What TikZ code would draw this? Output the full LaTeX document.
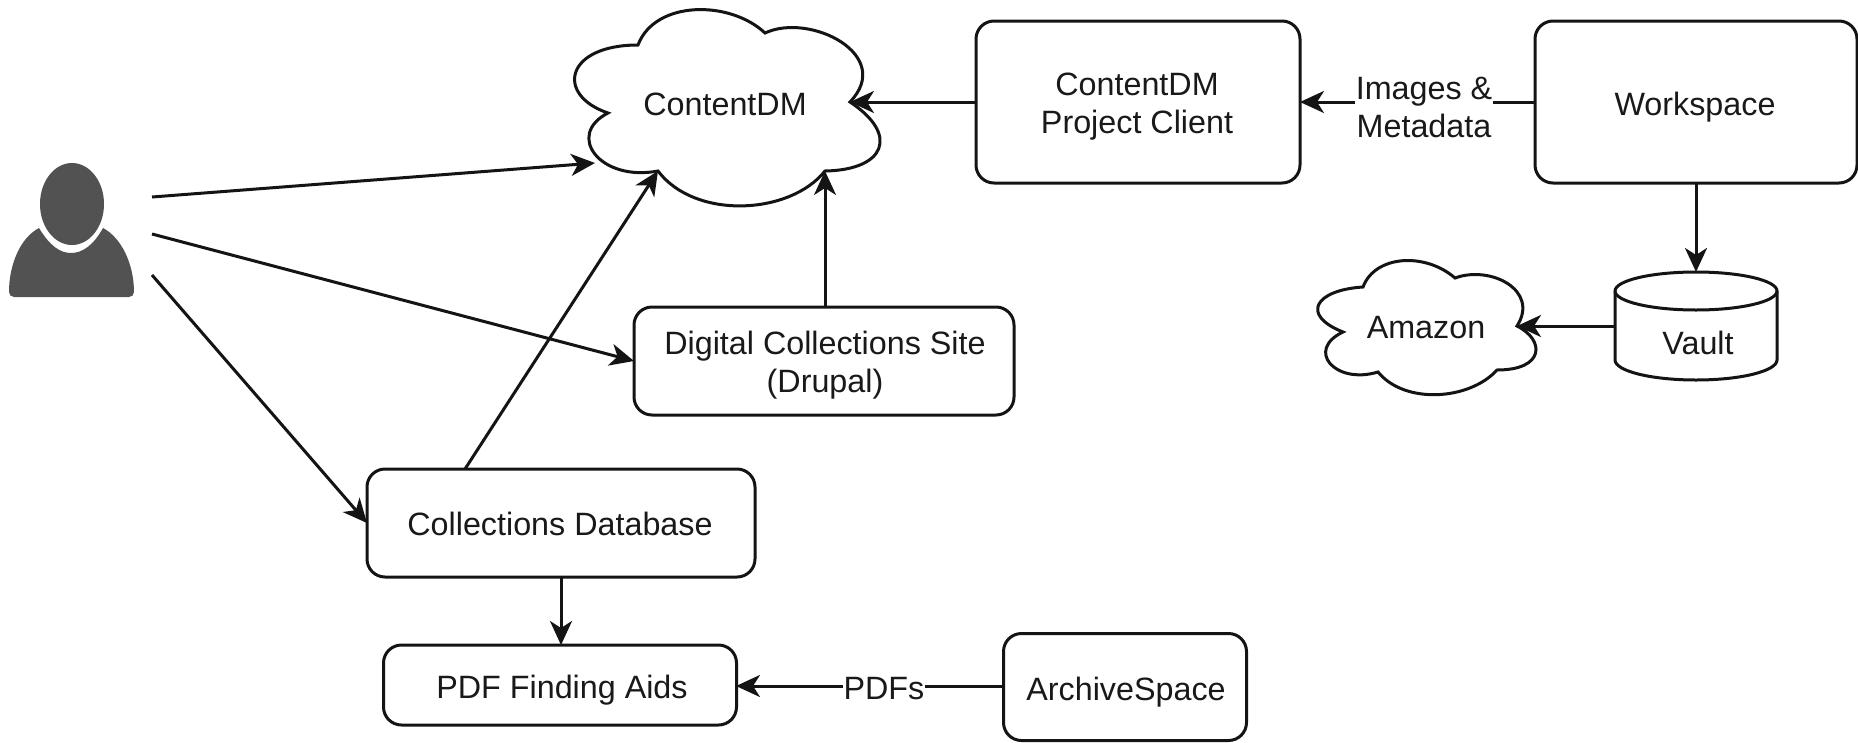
\documentclass[tikz,border=0pt]{standalone}
\usepackage{fontspec}
\setmainfont{Liberation Sans}
\usetikzlibrary{arrows.meta,shapes.geometric}
\tikzset{
  x=1pt,y=-1pt,
  base/.style={line width=3pt,draw=black!92},
  box/.style={base,rectangle,rounded corners=18pt,inner sep=0pt,outer sep=0pt},
  txt/.style={inner sep=0pt,outer sep=0pt,align=center,font=\fontsize{32.3}{38}\selectfont,text=black!90},
  lbl/.style={txt,fill=white,inner xsep=1pt,inner ysep=0pt},
  conn/.style={base,-{Stealth[length=24pt,width=22pt,inset=7pt]}}
}
\begin{document}
\begin{tikzpicture}
\useasboundingbox (0,0) rectangle (1858,742);
\fill[white] (0,0) rectangle (1858,742);
% person
\fill[black!68] (39,228) .. controls (50,246) and (60,253) .. (71,253)
  .. controls (82,253) and (93,246) .. (103,228)
  .. controls (122,238) and (134,265) .. (134,292)
  arc[start angle=0,end angle=90,radius=5] -- (14,297)
  arc[start angle=90,end angle=180,radius=5]
  .. controls (9,265) and (20,238) .. (39,228) -- cycle;
\fill[black!68] (72,204) ellipse [x radius=32,y radius=41];
% user connector starts
\coordinate (uA) at (152,197);
\coordinate (uB) at (152,234);
\coordinate (uC) at (152,275);
% ContentDM cloud
\coordinate (cL) at (595,163);
\coordinate (cB) at (658,171);
\coordinate (cC) at (825,171);
\coordinate (cR) at (850,102);
\draw[base,fill=white] (638,45)
  .. controls (655,0) and (730,0) .. (765,33)
  .. controls (810,12) and (895,55) .. (850,102)
  .. controls (900,135) and (885,170) .. (825,171)
  .. controls (790,215) and (695,220) .. (658,171)
  .. controls (600,182) and (565,135) .. (608,113)
  .. controls (555,95) and (565,45) .. (638,45) -- cycle;
\node[txt] (contentdm) at (725,104) {ContentDM};
% Amazon cloud
\coordinate (aR) at (1517,326);
\draw[base,fill=white] (1363,287)
  .. controls (1375,255) and (1425,252) .. (1455,278)
  .. controls (1490,265) and (1540,290) .. (1517,326)
  .. controls (1545,340) and (1545,370) .. (1497,370)
  .. controls (1470,400) and (1405,405) .. (1378,372)
  .. controls (1335,385) and (1305,350) .. (1343,332)
  .. controls (1300,315) and (1315,290) .. (1363,287) -- cycle;
\node[txt] (amazon) at (1426,328) {Amazon};
% boxes
\node[box,minimum width=324pt,minimum height=162pt] (client) at (1138,102) {};
\node[box,minimum width=322pt,minimum height=162pt] (workspace) at (1696,102) {};
\node[box,minimum width=380pt,minimum height=108pt] (digital) at (824,361) {};
\node[box,minimum width=388pt,minimum height=108pt] (db) at (561,523) {};
\node[box,minimum width=353pt,minimum height=80pt] (pdf) at (560,685) {};
\node[box,minimum width=243pt,minimum height=107pt] (archive) at (1125,687) {};
\node[txt] (clienttext) at (1137,107) {ContentDM\\Project Client};
\node[txt] (workspacetext) at (1695,107) {Workspace};
\node[txt] (digitaltext) at (825,365) {Digital Collections Site\\(Drupal)};
\node[txt] (dbtext) at (560,524) {Collections Database};
\node[txt] (pdftext) at (562,690) {PDF Finding Aids};
\node[txt] (archivetext) at (1126,692) {ArchiveSpace};
% Vault cylinder
\draw[base,fill=white] (1615,291) -- (1615,360)
  arc[start angle=180,end angle=360,x radius=81,y radius=-20] -- (1777,291)
  arc[start angle=0,end angle=180,x radius=81,y radius=-19] -- cycle;
\draw[base] (1615,291) arc[start angle=180,end angle=360,x radius=81,y radius=-19];
\node[txt] (vault) at (1698,343) {Vault};
\coordinate (vT) at (1696,272);
\coordinate (vL) at (1615,326);
\coordinate (dbT) at (465,469);
\coordinate (dgT) at (825,307);
\coordinate (pdfE) at (736,686);
\coordinate (arW) at (1004,686);
% connectors
\draw[conn] (uA) -- (cL);
\draw[conn] (uB) -- (digital.west);
\draw[conn] (uC) -- (db.west);
\draw[conn] (dbT) -- (cB);
\draw[conn] (dgT) -- (cC);
\draw[conn] (client.west) -- (cR);
\draw[conn] (workspace.west) -- (client.east);
\draw[conn] (workspace.south) -- (vT);
\draw[conn] (vL) -- (aR);
\draw[conn] (db.south) -- (db.south |- pdf.north);
\draw[conn] (arW) -- (pdfE);
\node[lbl] (imglbl) at (1424,107) {Images \&\\Metadata};
\node[lbl] (pdflbl) at (884,689) {PDFs};
\end{tikzpicture}
\end{document}
